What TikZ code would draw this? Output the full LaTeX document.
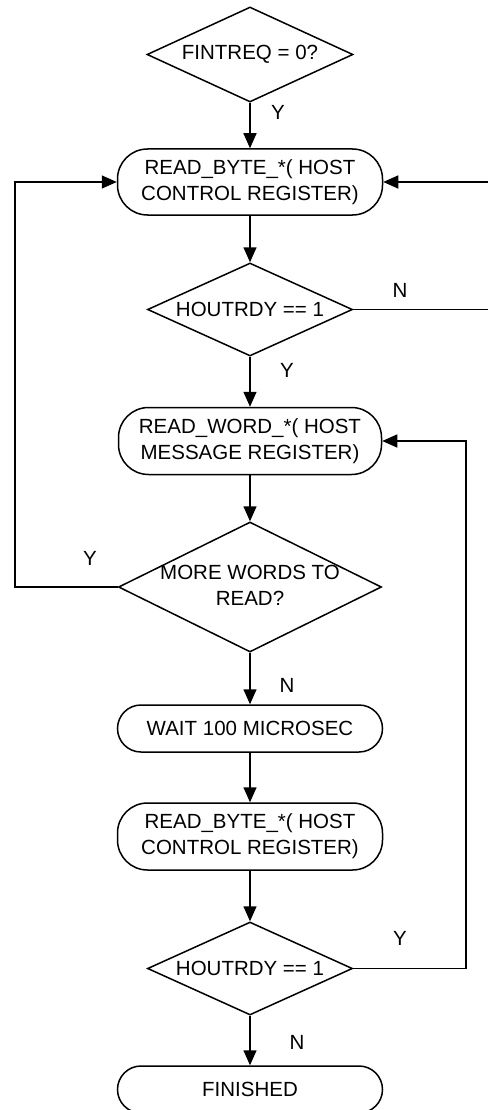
\documentclass[tikz,border=0pt]{standalone}
\usepackage{fontspec}
\setmainfont{Liberation Sans}
\usetikzlibrary{shapes.geometric,arrows.meta}
\newcommand\flowfont{\fontsize{20.5}{26}\selectfont}
\tikzset{
  term/.style={draw, rectangle, rounded corners=#1, minimum width=265pt, align=center, font=\flowfont, inner sep=0pt},
  dia/.style={draw, diamond, inner sep=0pt},
  dtext/.style={align=center, font=\flowfont, inner sep=0pt},
  lbl/.style={font=\flowfont, inner sep=0pt},
  arr/.style={-{Triangle[length=15pt,width=13pt]}},
}
\begin{document}
\begin{tikzpicture}[x=1pt,y=-1pt,line width=1.5pt]
\useasboundingbox (0,0) rectangle (487,1110);
% nodes
\node[dia, minimum width=206pt, minimum height=95pt] (d1) at (250,54.5) {};
\node[dtext] (d1t) at (d1.center) {FINTREQ = 0?};
\node[term=30pt, minimum height=66pt] (t1) at (250,182) {READ\_BYTE\_*( HOST\\CONTROL REGISTER)};
\node[dia, minimum width=205pt, minimum height=93pt] (d2) at (250,309.5) {};
\node[dtext] (d2t) at (d2.center) {HOUTRDY == 1};
\node[term=30pt, minimum height=67pt, minimum width=263pt] (t2) at (250,441) {READ\_WORD\_*( HOST\\MESSAGE REGISTER)};
\node[dia, minimum width=263pt, minimum height=130pt] (d3) at (250,587) {};
\node[dtext] (d3t) at (250,585.5) {MORE WORDS TO\\READ?};
\node[term=23.5pt, minimum height=47pt] (t3) at (250,728.5) {WAIT 100 MICROSEC};
\node[term=30pt, minimum height=67pt] (t4) at (250,836.5) {READ\_BYTE\_*( HOST\\CONTROL REGISTER)};
\node[dia, minimum width=205pt, minimum height=93pt] (d4) at (250,968.5) {};
\node[dtext] (d4t) at (d4.center) {HOUTRDY == 1};
\node[term=23.5pt, minimum height=47pt] (t5) at (250,1089.5) {FINISHED};
% labels
\node[lbl] (y1) at (278,112) {Y};
\node[lbl] (n2) at (400,290) {N};
\node[lbl] (y2) at (287,370) {Y};
\node[lbl] (y3) at (90,558) {Y};
\node[lbl] (n3) at (287,685) {N};
\node[lbl] (y4) at (400,938) {Y};
\node[lbl] (n4) at (297,1042) {N};
% helper coordinates
\coordinate (L) at (15,0);
\coordinate (R1) at (491,0);
\coordinate (R2) at (466,0);
% connectors
\draw[arr] (d1.south) -- (t1.north);
\draw[arr] (t1.south) -- (d2.north);
\draw[arr] (d2.south) -- (t2.north);
\draw[arr] (t2.south) -- (d3.north);
\draw[arr] (d3.south) -- (t3.north);
\draw[arr] (t3.south) -- (t4.north);
\draw[arr] (t4.south) -- (d4.north);
\draw[arr] (d4.south) -- (t5.north);
\draw[arr] (d3.west) -- (d3.west -| L) |- (t1.west);
\draw[arr] (d2.east) -- (d2.east -| R1) |- (t1.east);
\draw[arr] (d4.east) -- (d4.east -| R2) |- (t2.east);
\end{tikzpicture}
\end{document}
